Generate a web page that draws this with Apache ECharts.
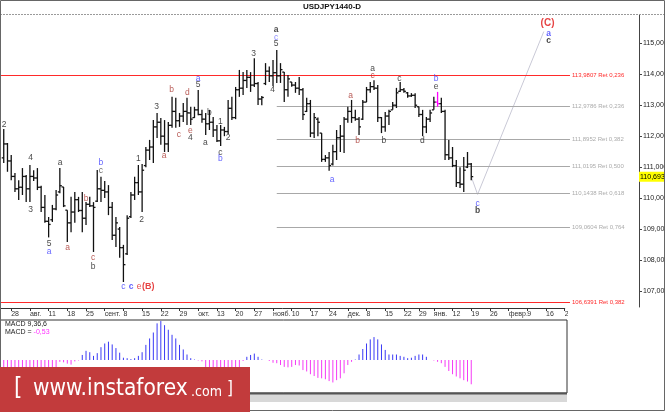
<!DOCTYPE html>
<html><head><meta charset="utf-8">
<script src="https://cdn.jsdelivr.net/npm/echarts@6/dist/echarts.min.js"></script>
<style>html,body{margin:0;padding:0;background:#fff}#c{width:665px;height:412px}</style>
</head><body><div id="c"></div>
<script>
// ---------- DATA ----------
const FIRST_BAR = 2; // index of the first visible daily bar
const open = [111.30,111.75,111.20,110.70,110.30,110.35,110.70,110.30,110.70,110.65,
110.35,109.70,109.25,109.30,109.65,110.20,110.36,109.61,109.20,109.55,
109.95,109.60,109.35,109.80,109.75,109.90,110.30,110.25,110.20,109.70,
108.80,109.00,108.40,108.20,109.40,110.10,110.50,110.20,111.05,111.55,
111.65,112.30,112.45,112.00,111.75,112.35,112.80,112.50,112.65,112.80,
112.75,112.60,112.85,112.70,112.55,112.40,112.45,112.20,111.85,112.20,
112.15,112.90,112.60,113.50,113.55,113.80,113.90,113.65,113.70,113.20,
113.70,114.10,113.95,114.05,113.95,114.07,113.50,113.75,113.65,113.55,
113.50,112.80,113.05,112.10,112.55,112.10,111.25,111.30,111.10,111.50,
111.95,112.00,112.55,112.80,112.60,112.55,112.55,113.10,113.50,113.60,
113.55,112.60,112.30,112.65,112.85,113.00,113.45,113.50,113.40,113.30,
113.32,112.95,112.70,112.30,112.55,112.85,113.10,113.05,112.80,111.40,
111.30,111.05,110.50,110.45,111.00,111.10];
const high = [112.23,111.78,111.39,110.81,110.58,110.97,110.75,111.07,110.90,110.97,
110.40,110.10,109.39,109.78,110.26,110.97,110.36,109.61,110.04,110.20,
110.04,110.20,109.87,110.04,109.87,110.91,110.69,110.55,110.42,109.87,
109.39,109.07,108.49,109.45,110.20,110.69,111.07,111.10,111.65,111.88,
112.52,112.75,112.59,112.52,112.46,113.27,113.24,112.75,113.07,113.24,
112.95,112.95,113.49,112.85,112.75,112.85,112.62,112.36,112.36,112.30,
113.17,113.27,113.59,114.14,114.07,114.14,114.07,114.52,113.75,113.30,
114.36,114.25,114.46,114.78,114.36,114.07,113.98,113.75,113.75,113.91,
113.56,113.24,113.17,112.75,112.60,112.10,111.39,111.49,111.72,112.20,
112.36,112.62,112.95,113.17,112.85,112.62,113.17,113.59,113.75,113.81,
113.65,112.62,112.78,112.85,113.10,113.56,113.75,113.56,113.43,113.39,
113.39,112.95,112.85,112.62,112.85,113.27,113.43,113.24,112.85,111.88,
111.65,111.23,111.00,111.33,111.49,111.13];
const low = [111.13,110.85,110.58,110.20,109.94,110.10,109.87,109.87,110.55,110.26,
109.55,109.20,108.73,109.23,109.61,110.16,109.71,108.58,108.90,109.20,
109.55,108.90,109.13,109.71,108.26,109.87,109.87,110.00,109.45,108.65,
108.42,108.07,107.29,108.16,109.36,109.94,110.10,109.55,111.00,111.23,
111.13,111.94,111.72,111.49,111.49,112.27,112.27,112.30,112.46,112.36,
112.36,112.59,112.68,112.43,112.04,112.20,111.97,111.81,111.68,112.00,
112.07,112.52,112.55,113.27,113.33,113.56,113.43,113.59,113.01,113.00,
113.65,113.75,113.62,113.72,113.72,113.10,113.27,113.60,113.40,113.33,
112.52,112.78,111.97,111.94,112.00,111.17,111.17,110.88,111.05,111.23,
111.49,111.46,112.43,112.43,112.50,112.04,112.52,113.10,113.40,113.49,
112.46,112.10,112.14,112.36,112.85,112.91,113.43,113.40,113.24,113.27,
112.91,112.62,112.00,112.10,112.46,112.85,112.95,112.75,111.23,111.23,
111.00,110.36,110.33,110.20,110.97,110.58];
const close = [111.75,111.20,110.70,110.30,110.35,110.70,110.30,110.70,110.65,110.35,
109.70,109.25,109.15,109.65,110.10,110.40,109.75,109.20,109.55,109.95,
109.60,109.35,109.80,109.75,109.70,110.30,110.25,110.20,109.70,108.80,
109.20,108.40,107.85,109.35,110.10,110.50,110.20,110.90,111.55,111.65,
112.30,112.45,112.00,111.75,112.35,112.80,112.50,112.65,112.80,112.75,
112.55,112.85,112.70,112.55,112.40,112.45,112.20,111.85,112.20,112.15,
112.90,112.60,113.50,113.55,113.80,113.90,113.65,113.70,113.20,113.25,
114.10,113.95,114.05,113.95,114.15,113.50,113.85,113.65,113.55,113.50,
112.70,113.05,112.10,112.60,112.45,111.25,111.30,111.05,111.50,111.95,
112.00,112.55,112.80,112.60,112.55,112.30,113.10,113.50,113.60,113.55,
112.60,112.30,112.65,112.80,113.00,113.40,113.50,113.45,113.30,113.32,
113.00,112.70,112.30,112.55,112.75,113.10,113.05,112.80,111.40,111.30,
111.05,110.50,110.45,110.90,111.10,110.693];
const HIGHLIGHT_BAR = 118; // bar drawn in magenta
const LAST_PRICE = 110.693;

// MACD 9,36,6 histogram, one value per bar from FIRST_BAR
const macd = [-0.30,-0.30,-0.30,-0.29,-0.28,-0.27,-0.26,-0.26,-0.25,-0.24,-0.24,-0.23,-0.24,-0.22,-0.18,
-0.04,-0.05,-0.08,-0.10,-0.03,-0.01,
0.11,0.20,0.17,0.09,0.15,0.28,0.36,0.40,0.34,0.26,0.16,0.05,0.04,0.02,0.04,0.09,0.17,0.33,0.47,0.60,0.80,0.85,0.76,0.66,0.55,0.47,0.33,0.23,0.12,0.04,
0.01,-0.01,-0.03,
-0.18,-0.22,-0.26,-0.28,-0.30,-0.28,-0.25,-0.22,-0.18,-0.16,-0.02,
0.07,0.11,0.14,0.07,
0.01,0.00,-0.02,
-0.06,-0.07,-0.11,-0.15,-0.16,-0.15,-0.11,-0.12,-0.22,-0.25,-0.31,-0.35,-0.39,-0.40,-0.42,-0.46,
-0.49,-0.44,-0.40,-0.29,-0.11,-0.04,0.01,0.12,0.24,0.36,0.45,0.50,0.45,0.34,0.22,0.12,0.12,0.12,0.09,0.07,0.04,0.05,0.09,0.12,0.12,0.07,0.00,-0.01,-0.04,-0.07,-0.15,-0.24,-0.31,-0.36,-0.40,-0.44,-0.47,-0.53];

// Fibonacci retracement levels
const fibLevels = [113.9807,112.9786,111.8952,111.0195,110.1438,109.0604,106.6391];
const fibRatios = ['0,236','0,236','0,382','0,500','0,618','0,764','0,382'];
const fibIsRed  = [true,false,false,false,false,false,true];
const fibStartBar = [1,75,75,75,75,75,1];
const FIB_END_BAR = 153.4;

// Forecast path (bar index, price)
const forecastBars = [127,128.7,146.4];
const forecastPrices = [110.693,110.12,115.38];

// Date axis ticks (bar index) and labels
const tickBars = [4,9,14,19,24,29,34,39,44,49,54,59,64,69,74,79,84,89,94,99,104,109,113,117,122,127,132,137,142,147,152];
const tickLabels = ['28','авг.','11','18','25','сент.','8','15','22','29','окт.','13','20','27','нояб.','10','17','24','дек.','8','15','22','29','янв.','12','19','26','февр.','9','16','23'];
const priceTicks = [107,108,109,110,111,112,113,114,115];

// Wave labels
const waveText = ['2','4','3','5','a','a','a','b','c','b','b','c','c','c','e','(B)','1','2','3','a','b','c','d','e','4','a','5','b','a','1','2','c','b','3','4','a','c','5','a','a','b','a','c','b','c','d','b','e','c','b','(C)','a','c'];
const waveBar = [2.07,9.21,9.21,14.1,14.1,17.04,19.1,24.0,25.9,25.9,28.0,28.0,33.97,36.03,38.17,40.65,37.98,38.89,42.9,44.85,46.91,48.86,51.08,51.88,51.88,53.94,53.94,56.96,55.89,59.9,61.96,59.9,59.9,68.83,73.91,74.8,74.8,74.8,89.77,94.77,96.64,100.65,100.65,103.67,107.76,113.91,117.58,117.58,128.73,128.73,147.4,147.7,147.7];
const wavePrice = [112.36,111.32,109.62,108.54,108.27,111.16,108.41,109.99,108.07,107.78,111.16,110.89,107.14,107.14,107.14,107.14,111.29,109.31,112.95,111.38,113.51,112.06,113.40,112.18,111.96,113.87,113.66,112.76,111.79,112.48,111.94,111.48,111.27,114.68,113.49,115.43,115.19,114.99,110.61,113.31,111.84,114.17,113.95,111.84,113.85,111.84,113.85,113.60,109.81,109.58,115.65,115.30,115.08];
const waveColor = ['k','k','k','k','u','k','r','r','r','k','u','g','u','u','R','R','k','k','k','r','r','r','r','r','k','u','k','k','k','k','k','k','u','k','k','k','L','k','u','r','r','k','r','k','k','k','u','k','u','k','R','u','k'];
const waveBold = [0,0,0,0,0,0,0,0,0,0,0,0,0,1,0,1,0,0,0,0,0,0,0,0,0,0,0,0,0,0,0,0,0,0,0,1,0,0,0,0,0,0,0,0,0,0,0,0,0,1,1,1,1];

// ---------- LAYOUT ----------
const FONT = '"Liberation Sans", Arial, sans-serif';
const BANNER_FONT = '"DejaVu Sans Condensed", "Liberation Sans", sans-serif';
const STEP = 3.74;            // px per daily bar
const MAIN_W = 639, MACD_W = 567;
const DATE_N = 152;
const DATE_W = (DATE_N - 1) * STEP;
const colorMap = {k:'#151515', u:'#3A3AFF', r:'#A8352E', R:'#E01414', g:'#4a4a4a', L:'#7474FF'};
const fmtComma = (v, d) => v.toFixed(d).replace('.', ',');

const dateCats = new Array(DATE_N).fill('');
tickBars.forEach((b, i) => { dateCats[b - 1] = tickLabels[i]; });
const hasLabel = (idx) => dateCats[idx] !== '';

const chart = echarts.init(document.getElementById('c'), null, {renderer: 'canvas'});

const ohlcData = open.map((o, i) => [FIRST_BAR + i, o, high[i], low[i], close[i]]);
const macdData = macd.map((v, i) => [FIRST_BAR + i, v]);
const waveData = waveText.map((t, i) => ({
  value: [waveBar[i], wavePrice[i]],
  label: {
    formatter: t,
    color: colorMap[waveColor[i]],
    fontWeight: waveBold[i] ? 'bold' : 'normal',
    fontSize: t === '(C)' ? 10 : (t === '(B)' ? 9 : 8.5)
  }
}));

const fibMarks = fibLevels.map((lv, i) => {
  const col = fibIsRed[i] ? '#FF2a2a' : '#A8A8A8';
  const lab = {show: true, position: 'end', distance: 2, fontSize: 6, fontFamily: FONT,
               color: fibIsRed[i] ? '#FF2a2a' : '#ABABAB',
               formatter: fmtComma(lv, 4) + ' Ret ' + fibRatios[i]};
  return [
    {coord: [fibStartBar[i], lv], lineStyle: {color: col, width: 1, type: 'solid'}, label: lab},
    {coord: [FIB_END_BAR, lv], lineStyle: {color: col, width: 1, type: 'solid'}, label: lab}
  ];
});
fibMarks.push({
  yAxis: LAST_PRICE,
  lineStyle: {color: 'rgba(0,0,0,0)', width: 0},
  label: {show: true, position: 'end', distance: 0, formatter: fmtComma(LAST_PRICE, 3),
          backgroundColor: '#FFFF00', color: '#000', fontSize: 7, fontFamily: FONT, padding: [2, 2, 1, 1]}
});

const Y_MIN = 115 - 263.7 / 30.96;
const Y_MAX = 115 + 28.3 / 30.96;

const option = {
  animation: false,
  textStyle: {fontFamily: FONT},
  grid: [
    {left: 0, top: 15, width: MAIN_W, height: 292, outerBoundsMode: 'none'},
    {left: 0, top: 307, width: DATE_W, height: 1, outerBoundsMode: 'none'},
    {left: 0, top: 320, width: MACD_W, height: 73, show: true, borderColor: '#333', borderWidth: 1, backgroundColor: '#fff', outerBoundsMode: 'none'}
  ],
  xAxis: [
    {gridIndex: 0, type: 'value', min: 1, max: 1 + MAIN_W / STEP, show: false},
    {gridIndex: 1, type: 'category', data: dateCats, boundaryGap: false, position: 'bottom',
     axisLine: {show: true, lineStyle: {color: '#333', width: 1}},
     axisTick: {show: true, length: 3, interval: hasLabel, lineStyle: {color: '#333'}},
     axisLabel: {interval: hasLabel, align: 'left', fontSize: 7, color: '#333', margin: 3, fontFamily: FONT},
     splitLine: {show: false}},
    {gridIndex: 2, type: 'value', min: 1, max: 1 + MACD_W / STEP, show: false}
  ],
  yAxis: [
    {gridIndex: 0, type: 'value', position: 'right', min: Y_MIN, max: Y_MAX,
     axisLine: {show: true, lineStyle: {color: '#444'}},
     axisTick: {show: true, length: 3, customValues: priceTicks, lineStyle: {color: '#444'}},
     axisLabel: {show: true, customValues: priceTicks, fontSize: 7, color: '#222', margin: 4,
                 fontFamily: FONT, formatter: v => fmtComma(v, 3)},
     splitLine: {show: false}},
    {gridIndex: 1, type: 'value', show: false, min: 0, max: 1},
    {gridIndex: 2, type: 'value', show: false, min: -0.72, max: 0.873}
  ],
  series: [
    {
      type: 'custom', xAxisIndex: 0, yAxisIndex: 0, data: ohlcData, z: 5,
      encode: {x: 0, y: [1, 2, 3, 4]},
      renderItem(params, api) {
        const j = api.value(0);
        const h = api.coord([j, api.value(2)]);
        const l = api.coord([j, api.value(3)]);
        const o = api.coord([j, api.value(1)]);
        const c = api.coord([j, api.value(4)]);
        const x = h[0];
        const col = j === HIGHLIGHT_BAR ? '#FF00FF' : '#111111';
        const st = {stroke: col, lineWidth: 1.3};
        return {type: 'group', children: [
          {type: 'line', shape: {x1: x, y1: h[1], x2: x, y2: l[1]}, style: st},
          {type: 'line', shape: {x1: x - 2, y1: o[1], x2: x, y2: o[1]}, style: st},
          {type: 'line', shape: {x1: x, y1: c[1], x2: x + 2, y2: c[1]}, style: st}
        ]};
      }
    },
    {
      type: 'line', xAxisIndex: 0, yAxisIndex: 0, z: 3, symbol: 'none',
      data: forecastBars.map((b, i) => [b, forecastPrices[i]]),
      lineStyle: {color: '#C9C9D6', width: 1},
      markLine: {silent: true, symbol: ['none', 'none'], animation: false, data: fibMarks}
    },
    {
      type: 'scatter', xAxisIndex: 0, yAxisIndex: 0, z: 6, symbolSize: 1,
      itemStyle: {color: 'rgba(0,0,0,0)'},
      label: {show: true, position: 'inside', fontFamily: FONT},
      data: waveData
    },
    {
      type: 'custom', xAxisIndex: 2, yAxisIndex: 2, data: macdData, z: 5,
      encode: {x: 0, y: 1},
      renderItem(params, api) {
        const j = api.value(0), v = api.value(1);
        const a = api.coord([j, 0]), b = api.coord([j, v]);
        return {type: 'line', shape: {x1: a[0], y1: a[1], x2: b[0], y2: b[1]},
                style: {stroke: v >= 0 ? '#3A3AF5' : '#F53AF5', lineWidth: 1}};
      }
    }
  ],
  graphic: [
    {type: 'line', z: 20, shape: {x1: 0, y1: 14.5, x2: 665, y2: 14.5}, style: {stroke: '#9a9a9a', lineWidth: 1, lineDash: [2, 1]}},
    {type: 'text', z: 20, x: 332, y: 7, style: {text: 'USDJPY1440-D', font: 'bold 8px ' + FONT, fill: '#111', align: 'center', verticalAlign: 'middle'}},
    {type: 'text', z: 20, x: 5, y: 324, style: {text: 'MACD 9,36,6', font: '7px ' + FONT, fill: '#222', verticalAlign: 'middle'}},
    {type: 'text', z: 20, x: 5, y: 332, style: {text: '{a|MACD = }{b|' + fmtComma(macd[macd.length - 1], 2) + '}', verticalAlign: 'middle',
      rich: {a: {font: '7px ' + FONT, fill: '#222'}, b: {font: '7px ' + FONT, fill: '#FF33FF'}}}},
    {type: 'rect', z: 20, shape: {x: 0, y: 394, width: MACD_W, height: 8}, style: {fill: '#D8D8D8'}},
    {type: 'line', z: 21, shape: {x1: 0, y1: 393.5, x2: MACD_W, y2: 393.5}, style: {stroke: '#555', lineWidth: 2}},
    {type: 'rect', z: 30, shape: {x: 568, y: 309, width: 70, height: 10}, style: {fill: '#fff'}},
    {type: 'rect', z: 90, shape: {x: 0.5, y: 0.5, width: 664, height: 410}, style: {fill: 'none', stroke: '#666', lineWidth: 1}},
    {type: 'rect', z: 100, shape: {x: 0, y: 367, width: 250, height: 45}, style: {fill: '#C23B3C'}},
    {type: 'text', z: 101, x: 14, y: 389, style: {text: '[', font: '24px ' + BANNER_FONT, fill: '#fff', verticalAlign: 'middle'}},
    {type: 'text', z: 101, x: 33, y: 389, style: {text: 'www.instaforex', font: '22.5px ' + BANNER_FONT, fill: '#fff', verticalAlign: 'middle'}},
    {type: 'text', z: 101, x: 191, y: 392, style: {text: '.com', font: '14px ' + BANNER_FONT, fill: '#fff', verticalAlign: 'middle'}},
    {type: 'text', z: 101, x: 227, y: 390, style: {text: ']', font: '17px ' + BANNER_FONT, fill: '#fff', verticalAlign: 'middle'}}
  ]
};
chart.setOption(option);
</script>
</body></html>
